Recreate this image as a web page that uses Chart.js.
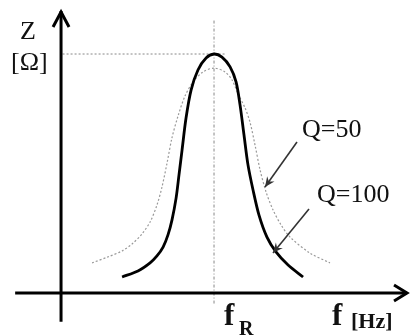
<!DOCTYPE html>
<html>
<head>
<meta charset="utf-8">
<script src="https://cdn.jsdelivr.net/npm/chart.js@4"></script>
<style>
  html, body { margin: 0; padding: 0; background: #fff; }
  #wrap { width: 410px; height: 336px; }
</style>
</head>
<body>
<div id="wrap"><canvas id="resChart"></canvas></div>
<script>
  /* ── Data (f in units of fR, Z in units of Zmax) ─────────── */
  const q100F = [0.399, 0.503, 0.582, 0.627, 0.667, 0.699, 0.725, 0.752, 0.771, 0.791, 0.817, 0.850, 0.895, 0.948, 1.000,
                 1.052, 1.105, 1.144, 1.170, 1.196, 1.222, 1.255, 1.294, 1.346, 1.405, 1.484, 1.582];
  const q100Z = [0.067, 0.092, 0.126, 0.155, 0.192, 0.243, 0.305, 0.397, 0.494, 0.598, 0.732, 0.849, 0.933, 0.983, 1.000,
                 0.987, 0.946, 0.883, 0.787, 0.661, 0.536, 0.431, 0.326, 0.234, 0.172, 0.117, 0.067];
  const q50F  = [0.203, 0.307, 0.399, 0.464, 0.529, 0.582, 0.627, 0.660, 0.693, 0.725, 0.765, 0.810, 0.863, 0.928, 1.000,
                 1.072, 1.118, 1.157, 1.203, 1.235, 1.268, 1.301, 1.340, 1.386, 1.438, 1.497, 1.627, 1.758];
  const q50Z  = [0.126, 0.151, 0.176, 0.205, 0.247, 0.297, 0.368, 0.444, 0.544, 0.649, 0.741, 0.824, 0.883, 0.925, 0.941,
                 0.925, 0.891, 0.833, 0.774, 0.715, 0.619, 0.515, 0.423, 0.347, 0.285, 0.234, 0.167, 0.126];
  const seriesLabels = ['Q=100', 'Q=50'];
  const resonanceF = 1;
  const peakZ = 1;

  const SERIF = "'Liberation Serif', 'DejaVu Serif', serif";

  const toPoints = (xs, ys) => xs.map((x, i) => ({ x, y: ys[i] }));

  function line(ctx, x1, y1, x2, y2) {
    ctx.beginPath(); ctx.moveTo(x1, y1); ctx.lineTo(x2, y2); ctx.stroke();
  }

  function arrow(ctx, x1, y1, x2, y2) {
    line(ctx, x1, y1, x2, y2);
    const a = Math.atan2(y2 - y1, x2 - x1), len = 11, w = 0.42;
    ctx.beginPath();
    ctx.moveTo(x2, y2);
    ctx.lineTo(x2 - len * Math.cos(a - w), y2 - len * Math.sin(a - w));
    ctx.lineTo(x2 - len * 0.6 * Math.cos(a), y2 - len * 0.6 * Math.sin(a));
    ctx.lineTo(x2 - len * Math.cos(a + w), y2 - len * Math.sin(a + w));
    ctx.closePath();
    ctx.fill();
  }

  /* ── Axes, guides and labels ─────────────────────────────── */
  const diagram = {
    id: 'diagram',
    beforeDatasetsDraw(chart) {
      const { ctx, scales: { x, y } } = chart;
      ctx.save();
      ctx.strokeStyle = '#888';
      ctx.lineWidth = 1;
      ctx.setLineDash([2, 2]);
      line(ctx, x.getPixelForValue(0.01), y.getPixelForValue(peakZ),
                x.getPixelForValue(1.07), y.getPixelForValue(peakZ));
      ctx.setLineDash([3, 2, 1, 2]);
      line(ctx, x.getPixelForValue(resonanceF), y.getPixelForValue(1.14),
                x.getPixelForValue(resonanceF), y.getPixelForValue(-0.05));
      ctx.restore();
    },
    afterDatasetsDraw(chart) {
      const { ctx, scales: { x, y } } = chart;
      const x0 = x.getPixelForValue(0), y0 = y.getPixelForValue(0);
      ctx.save();
      ctx.strokeStyle = '#000';
      ctx.lineWidth = 3;
      // y axis
      const yTop = y.getPixelForValue(1.184);
      line(ctx, x0, y.getPixelForValue(-0.12), x0, yTop + 1);
      ctx.beginPath();
      ctx.moveTo(x0 - 8, yTop + 17); ctx.lineTo(x0, yTop + 2); ctx.lineTo(x0 + 8, yTop + 17);
      ctx.stroke();
      // x axis
      const xEnd = x.getPixelForValue(2.268);
      line(ctx, x.getPixelForValue(-0.30), y0, xEnd - 1, y0);
      ctx.beginPath();
      ctx.moveTo(xEnd - 14, y0 - 8); ctx.lineTo(xEnd - 1, y0); ctx.lineTo(xEnd - 14, y0 + 8);
      ctx.stroke();

      // pointer arrows
      ctx.strokeStyle = '#333';
      ctx.fillStyle = '#333';
      ctx.lineWidth = 1.6;
      arrow(ctx, 297, 142, 265, 187);
      arrow(ctx, 309, 209, 273, 253);

      // texts
      ctx.fillStyle = '#111';
      ctx.textBaseline = 'alphabetic';
      ctx.font = '26px ' + SERIF;
      ctx.fillText('Z', 20, 39);
      ctx.fillText('[Ω]', 11, 70);
      ctx.fillText(seriesLabels[1], 302, 137);
      ctx.fillText(seriesLabels[0], 317, 202);
      ctx.font = 'bold 31px ' + SERIF;
      ctx.fillText('f', 224, 325);
      ctx.fillText('f', 332, 325);
      ctx.font = 'bold 20px ' + SERIF;
      ctx.fillText('R', 239, 335);
      ctx.font = 'bold 22px ' + SERIF;
      ctx.fillText('[Hz]', 351, 328);
      ctx.restore();
    }
  };

  /* ── Chart ───────────────────────────────────────────────── */
  new Chart(document.getElementById('resChart'), {
    type: 'line',
    data: {
      datasets: [
        {
          label: seriesLabels[0],
          data: toPoints(q100F, q100Z),
          borderColor: '#000',
          borderWidth: 2.8,
          tension: 0.3,
          pointRadius: 0,
          fill: false,
        },
        {
          label: seriesLabels[1],
          data: toPoints(q50F, q50Z),
          borderColor: '#999',
          borderWidth: 1.2,
          borderDash: [2, 2],
          tension: 0.3,
          pointRadius: 0,
          fill: false,
        }
      ]
    },
    options: {
      responsive: true,
      maintainAspectRatio: false,
      animation: false,
      layout: { padding: 0 },
      plugins: { legend: { display: false }, tooltip: { enabled: false } },
      scales: {
        x: { type: 'linear', display: false, min: -0.399, max: 2.281 },
        y: { type: 'linear', display: false, min: -0.180, max: 1.226 }
      }
    },
    plugins: [diagram]
  });
</script>
</body>
</html>
